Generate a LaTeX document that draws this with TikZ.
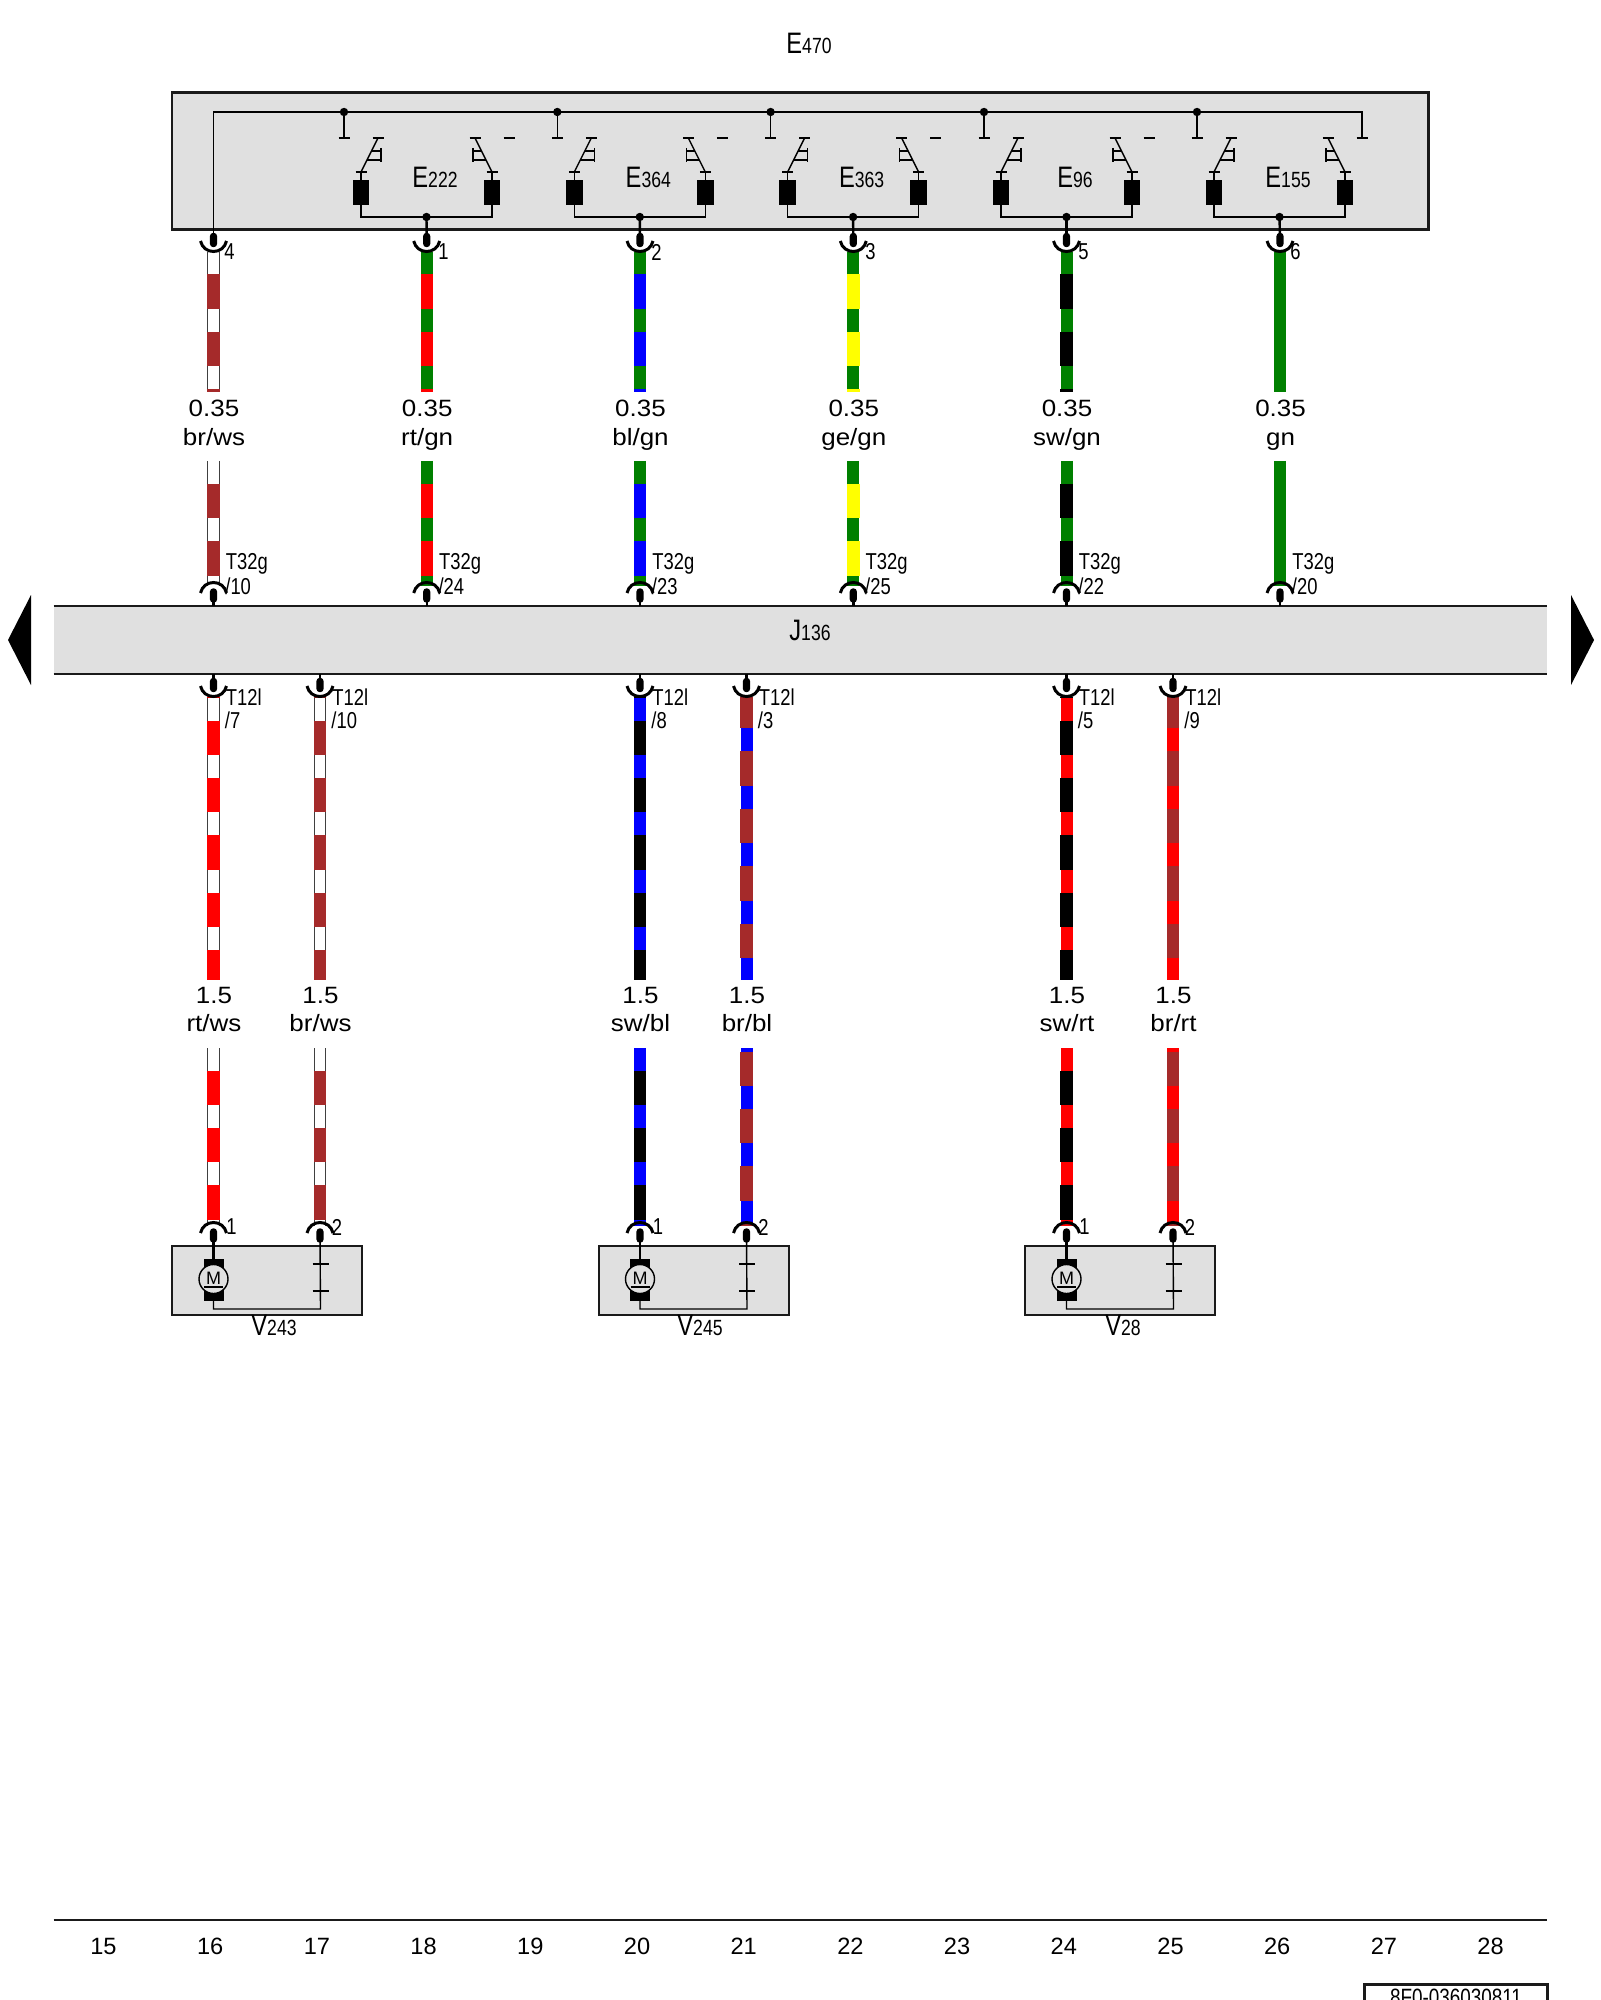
\documentclass[tikz,border=0pt]{standalone}
\usepackage{fontspec}
\setmainfont{Liberation Sans}
\newfontfamily\nf[FakeStretch=0.8]{Liberation Sans}
\newfontfamily\wf[FakeStretch=1.1]{Liberation Sans}
\usetikzlibrary{shapes.geometric}
\definecolor{wbrown}{HTML}{A52A2A}
\definecolor{wgreen}{HTML}{008000}
\definecolor{wred}{HTML}{FF0000}
\definecolor{wblue}{HTML}{0000FF}
\definecolor{wyellow}{HTML}{FFFF00}
\definecolor{panel}{HTML}{E0E0E0}
\definecolor{ink}{HTML}{1A1A1A}
\tikzset{
  x=0.5pt,y=-0.5pt,
  thin wire/.style={line width=0.7pt,black},
  boxline/.style={line width=1.1pt,draw=ink,fill=panel},
  dotnode/.style={circle,fill=black,inner sep=0pt,minimum size=4.2pt},
  oval/.style={rectangle,rounded corners=1.7pt,fill=black,inner sep=0pt,minimum width=3.6pt,minimum height=7.2pt},
  blk/.style={fill=black,draw=none},
  lab/.style={inner sep=0pt,font=\fontsize{11.8}{13}\selectfont},
  wlab/.style={inner sep=0pt,anchor=base,font=\wf\fontsize{11.8}{13}\selectfont},
  narrow/.style={inner sep=0pt,anchor=west,font=\nf\fontsize{11.5}{13}\selectfont},
  socket/.style={line width=1.5pt,black},
}
\newcommand{\bs}[2]{{\nf\fontsize{14.8}{15}\selectfont #1\fontsize{11}{11}\selectfont #2}}
% x ya yb y0 base main name
\newcommand{\wiresec}[7]{%
  \coordinate (#7a) at (#1,#2);
  \coordinate (#7b) at (#1,#3);
  \edef\tmpb{#5}\def\tmpw{white}%
  \ifx\tmpb\tmpw
    \draw[line width=6.4pt,color=black!75] (#7a)--(#7b);
    \draw[line width=5.4pt,color=white] (#7a)--(#7b);
  \else
    \draw[line width=6pt,color=#5] (#7a)--(#7b);
  \fi
  \pgfmathsetmacro\dphase{mod((#2-#4)*0.5+57.4,28.7)}%
  \draw[line width=6.2pt,color=#6,dash pattern=on 17.2pt off 11.5pt,dash phase=\dphase pt] (#7a)--(#7b);
}
% socket opening up: x yend name
\newcommand{\pinU}[3]{%
  \draw[socket] (#1-13,#2) .. controls (#1-10,#2+14) and (#1+10,#2+14) .. (#1+13,#2);
  \node[oval] (#3) at (#1,#2-1) {};
}
% socket opening down
\newcommand{\pinD}[3]{%
  \draw[socket] (#1-13,#2) .. controls (#1-10,#2-14) and (#1+10,#2-14) .. (#1+13,#2);
  \node[oval] (#3) at (#1,#2+2.5) {};
}
\begin{document}
\begin{tikzpicture}
\useasboundingbox (0,0) rectangle (1600,2000);
\clip (0,0) rectangle (1600,2000);
\fill[white] (0,0) rectangle (1600,2000);

% Title
\node[lab,inner sep=0pt] (e470) at (809,43) {\bs{E}{470}};

% Panel E470
\node[boxline,rectangle,inner sep=0pt,minimum width=628.2pt,minimum height=68.5pt,anchor=north west] (panelE) at (171,91.5) {};

% Wires (sections A, B)
\foreach \i/\cx/\wb/\wm/\pa/\pb/\gw/\ga/\gb/\cs/\ct in {
  1/213.5/white/wbrown/4/229/br\slash ws/T32g/\slash 10/0.35/x,
  2/426.7/wgreen/wred/1/443/rt\slash gn/T32g/\slash 24/0.35/x,
  3/640/wgreen/wblue/2/656/bl\slash gn/T32g/\slash 23/0.35/x,
  4/853.3/wgreen/wyellow/3/870/ge\slash gn/T32g/\slash 25/0.35/x,
  5/1066.5/wgreen/black/5/1083/sw\slash gn/T32g/\slash 22/0.35/x,
  6/1280/wgreen/wgreen/6/1295/gn/T32g/\slash 20/0.35/x}{
  \wiresec{\cx}{252}{392}{274.4}{\wb}{\wm}{wa\i}
  \wiresec{\cx}{461}{586}{484}{\wb}{\wm}{wb\i}
  \pinU{\cx}{241}{pu\i}
  \pinD{\cx}{593}{pd\i}
  \node[narrow] (num\i) at (\pb-5,252) {\pa};
  \node[wlab] (size\i) at (\cx+0.5,417) {\cs};
  \node[wlab] (code\i) at (\cx+0.5,445.5) {\gw};
  \node[narrow] (tg\i) at (\cx+12,564) {\ga};
  \node[narrow] (tn\i) at (\cx+11.5,586) {\gb};
}

% Panel J136
\fill[panel] (53.5,606) rectangle (1547,674);
\draw[line width=1.1pt,ink] (53.5,606) -- (1547,606);
\draw[line width=1.1pt,ink] (53.5,674) -- (1547,674);
\node[lab] (j136) at (810,630.5) {\bs{J}{136}};
\fill (8,640) -- (31,595) -- (31,685) -- cycle;
\fill (1594,640) -- (1571,595) -- (1571,685) -- cycle;
\foreach \i in {1,...,6}{\draw[thin wire,line width=1.2pt] (pd\i.center) -- (pd\i.center |- 0,606);}

% Switch groups
\coordinate (busL) at (213.5,112);
\coordinate (busR) at (1362,112);
\coordinate (busRT) at (1362,138);
\draw[thin wire] (pu1.center) -- (busL) -- (busR) -- (busRT);
\draw[thin wire] (1356.5,138) -- (1367.5,138);
\foreach \i/\x/\a/\b/\pin in {1/344/222/E/pu2,2/557.3/364/E/pu3,3/770.6/363/E/pu4,4/984/96/E/pu5,5/1197/155/E/pu6}{
  \node[dotnode] (sj\i) at (\x,112) {};
  \coordinate (st\i) at (\x,138);
  \draw[thin wire] (sj\i.center) -- (st\i);
  \draw[thin wire] (\x-5.5,138) -- (\x+5.5,138);
  \ifnum\i<5 \draw[thin wire] (\x+159.5,138) -- (\x+170.5,138);\fi
  % left contact
  \draw[thin wire] (\x+28.5,138) -- (\x+39.5,138);
  \draw[thin wire] (\x+34,138) -- (\x+17,172);
  \draw[thin wire] (\x+11.5,172) -- (\x+22.5,172);
  \draw[thin wire] (\x+37,148) -- (\x+37,162);
  \draw[thin wire] (\x+27.5,151) -- (\x+37,151);
  \draw[thin wire] (\x+23,160) -- (\x+37,160);
  % right contact
  \draw[thin wire] (\x+125.5,138) -- (\x+136.5,138);
  \draw[thin wire] (\x+131,138) -- (\x+148,172);
  \draw[thin wire] (\x+142.5,172) -- (\x+153.5,172);
  \draw[thin wire] (\x+129,148) -- (\x+129,162);
  \draw[thin wire] (\x+129,151) -- (\x+137.5,151);
  \draw[thin wire] (\x+129,160) -- (\x+142,160);
  % relays
  \node[rectangle,blk,inner sep=0pt,minimum width=8.2pt,minimum height=12.5pt] (rl\i) at (\x+17,192.5) {};
  \node[rectangle,blk,inner sep=0pt,minimum width=8.2pt,minimum height=12.5pt] (rr\i) at (\x+148,192.5) {};
  \draw[thin wire] (\x+17,172) -- (rl\i.north);
  \draw[thin wire] (\x+148,172) -- (rr\i.north);
  \node[dotnode] (bj\i) at (\x+82.5,217) {};
  \draw[thin wire] (rl\i.south) |- (bj\i.center);
  \draw[thin wire] (rr\i.south) |- (bj\i.center);
  \draw[thin wire,line width=1.2pt] (bj\i.center) -- (\pin.center);
  \node[lab] (sl\i) at (\x+91,177) {\bs{\b}{\a}};
}

% Lower wires
\foreach \i/\cx/\wb/\wm/\yc/\yd/\sz/\cd/\tn in {
  1/213.5/white/wred/720.5/1070.6/1.5/rt\slash ws/\slash 7,
  2/320/white/wbrown/720.5/1070.6/1.5/br\slash ws/\slash 10,
  3/640/wblue/black/720.5/1070.6/1.5/sw\slash bl/\slash 8,
  4/746.5/wblue/wbrown/694/1051.6/1.5/br\slash bl/\slash 3,
  5/1066.5/wred/black/720.5/1070.6/1.5/sw\slash rt/\slash 5,
  6/1173/wred/wbrown/694/1051.6/1.5/br\slash rt/\slash 9}{
  \wiresec{\cx}{697}{980}{\yc}{\wb}{\wm}{wc\i}
  \wiresec{\cx}{1048}{1226}{\yd}{\wb}{\wm}{wd\i}
  \pinU{\cx}{686}{qu\i}
  \pinD{\cx}{1233}{qd\i}
  \draw[thin wire,line width=1.2pt] (qu\i.center) -- (\cx,674);
  \node[wlab] (qs\i) at (\cx+0.5,1003) {\sz};
  \node[wlab] (qc\i) at (\cx+0.5,1031) {\cd};
  \node[narrow] (qt\i) at (\cx+12,697) {T12l};
  \node[narrow] (qn\i) at (\cx+11,720) {\tn};
}

% Motor boxes
\foreach \i/\cx/\ca/\cb/\la/\lb/\lx in {1/213.5/qd1/qd2/V/243/274,2/640/qd3/qd4/V/245/700,3/1066.5/qd5/qd6/V/28/1123}{
  \node[boxline,rectangle,inner sep=0pt,minimum width=95pt,minimum height=34.5pt,anchor=north west] (mb\i) at (\cx-42.5,1244.5) {};
  \fill (\cx-10,1259) rectangle (\cx+10,1268);
  \fill (\cx-10,1290) rectangle (\cx+10,1301);
  \node[circle,draw=black,line width=0.7pt,fill=panel,inner sep=0pt,minimum size=14.5pt] (mo\i) at (\cx,1279) {};
  \node[inner sep=0pt,font=\fontsize{9}{9}\selectfont] (mm\i) at (\cx,1278) {M};
  \draw[thin wire] (\cx-9.5,1287) -- (\cx+9.5,1287);
  \draw[thin wire,line width=1.2pt] (\ca.center) -- (\cx,1259);
  \coordinate (mc\i) at (\cx+107,1309);
  \draw[thin wire] (\cx,1301) |- (mc\i) -- (\cb.center);
  \draw[thin wire] (\cx+99,1264) -- (\cx+115,1264);
  \draw[thin wire] (\cx+99,1291) -- (\cx+115,1291);
  \node[narrow] (mn\i) at (\cx+12.5,1227) {1};
  \node[narrow] (mp\i) at (\cx+118,1227) {2};
  \node[lab] (ml\i) at (\lx,1325) {\bs{\la}{\lb}};
}

% Footer
\draw[line width=1.1pt,ink] (53.5,1920) -- (1547,1920);
\foreach \n [count=\k from 0] in {15,...,28}{
  \node[lab] (col\n) at (103.5+\k*106.7,1946) {\n};
}
\draw[line width=1.1pt,ink,fill=white] (1364.5,1984.5) rectangle (1547.5,2030);
\node[inner sep=0pt,font=\nf\fontsize{11.8}{13}\selectfont] (part) at (1456,1997) {8F0-036030811};
\end{tikzpicture}
\end{document}
